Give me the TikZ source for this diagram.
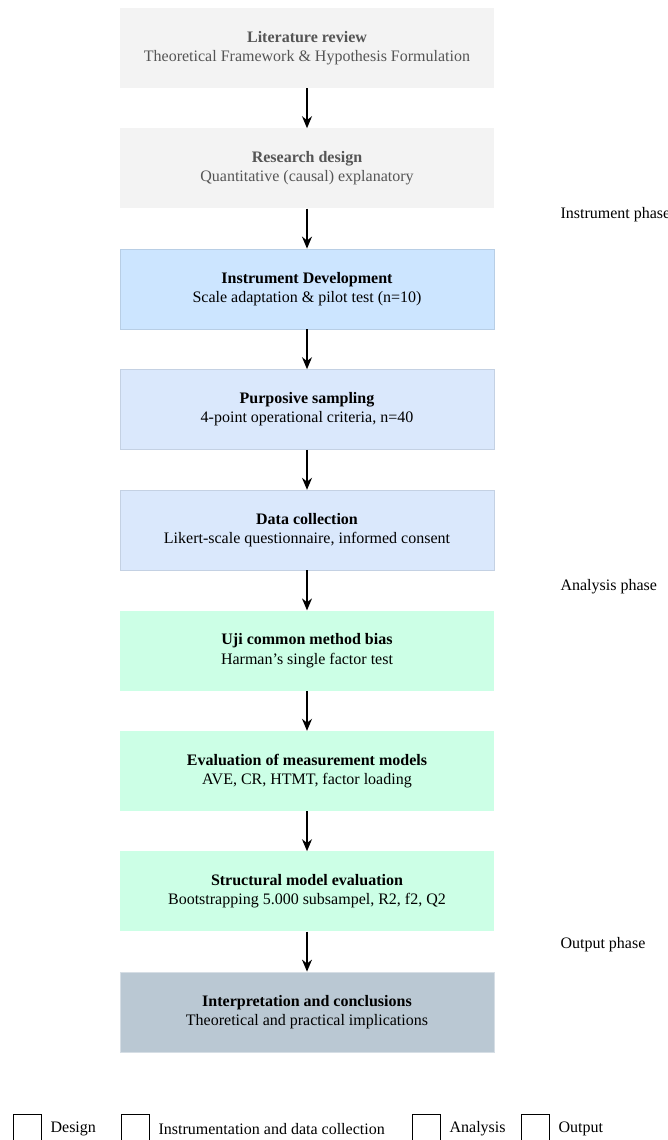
\documentclass[tikz,border=0pt]{standalone}
\usepackage{fontspec}
\setmainfont{Liberation Serif}
\usetikzlibrary{arrows.meta,positioning}
\definecolor{designgrey}{HTML}{F3F3F3}
\definecolor{greytext}{HTML}{555555}
\definecolor{instrblue}{HTML}{CCE5FF}
\definecolor{datablue}{HTML}{DAE8FC}
\definecolor{analysismint}{HTML}{CCFFE6}
\definecolor{outputslate}{HTML}{BAC8D3}

\begin{document}
\begin{tikzpicture}[
    x=1pt, y=-1pt,
    stage/.style={rectangle, minimum width=374pt, minimum height=80pt, inner sep=0pt,
                  align=center, font=\fontsize{16}{19.2}\selectfont},
    design/.style={stage, fill=designgrey, text=greytext},
    instrument/.style={stage, fill=instrblue, draw=instrblue!90!black, line width=0.6pt},
    collect/.style={stage, fill=datablue, draw=datablue!90!black, line width=0.6pt},
    analysis/.style={stage, fill=analysismint},
    output/.style={stage, fill=outputslate, draw=outputslate!60!white, line width=0.8pt},
    phase/.style={anchor=west, font=\fontsize{16}{19.2}\selectfont},
    legbox/.style={rectangle, draw, line width=0.8pt, minimum width=28pt, minimum height=30pt, inner sep=0pt},
    legtext/.style={font=\fontsize{16}{19.2}\selectfont, inner sep=0pt},
    flow/.style={-{Stealth[length=12pt, width=10pt]}, line width=1.4pt},
    node distance=40pt,
]
    \useasboundingbox (0,0) rectangle (668,1140);

    % Design stages
    \node[design] (litreview) at (307,48) {\textbf{Literature review}\\Theoretical Framework \& Hypothesis Formulation};
    \node[design, below=of litreview] (resdesign) {\textbf{Research design}\\Quantitative (causal) explanatory};

    % Instrumentation and data collection
    \node[instrument, below=of resdesign] (instrdev) {\textbf{Instrument Development}\\Scale adaptation \& pilot test (n=10)};
    \node[collect, below=of instrdev] (sampling) {\textbf{Purposive sampling}\\4-point operational criteria, n=40};
    \node[collect, below=of sampling] (datacoll) {\textbf{Data collection}\\Likert-scale questionnaire, informed consent};

    % Analysis
    \node[analysis, below=of datacoll] (cmb) {\textbf{Uji common method bias}\\Harman's single factor test};
    \node[analysis, below=of cmb] (measmodel) {\textbf{Evaluation of measurement models}\\AVE, CR, HTMT, factor loading};
    \node[analysis, below=of measmodel] (structmodel) {\textbf{Structural model evaluation}\\Bootstrapping 5.000 subsampel, R2, f2, Q2};

    % Output
    \node[output, below=of structmodel] (interp) {\textbf{Interpretation and conclusions}\\Theoretical and practical implications};

    % Arrows between stages
    \draw[flow] (litreview) -- (resdesign);
    \draw[flow] (resdesign) -- (instrdev);
    \draw[flow] (instrdev) -- (sampling);
    \draw[flow] (sampling) -- (datacoll);
    \draw[flow] (datacoll) -- (cmb);
    \draw[flow] (cmb) -- (measmodel);
    \draw[flow] (measmodel) -- (structmodel);
    \draw[flow] (structmodel) -- (interp);

    % Phase labels
    \node[phase] (ph-instr) at (557,215) {Instrument phase};
    \node[phase] (ph-analysis) at (557,587) {Analysis phase};
    \node[phase] (ph-output) at (557,945) {Output phase};

    % Legend
    \node[legbox] (lg-design) at (27,1129) {};
    \node[legtext, right=9pt of lg-design] (lt-design) {Design};
    \node[legbox] (lg-instr) at (135,1129) {};
    \node[legtext, right=9pt of lg-instr] (lt-instr) {Instrumentation and data collection};
    \node[legbox] (lg-analysis) at (426,1129) {};
    \node[legtext, right=9pt of lg-analysis] (lt-analysis) {Analysis};
    \node[legbox] (lg-output) at (535,1129) {};
    \node[legtext, right=9pt of lg-output] (lt-output) {Output};
\end{tikzpicture}
\end{document}
